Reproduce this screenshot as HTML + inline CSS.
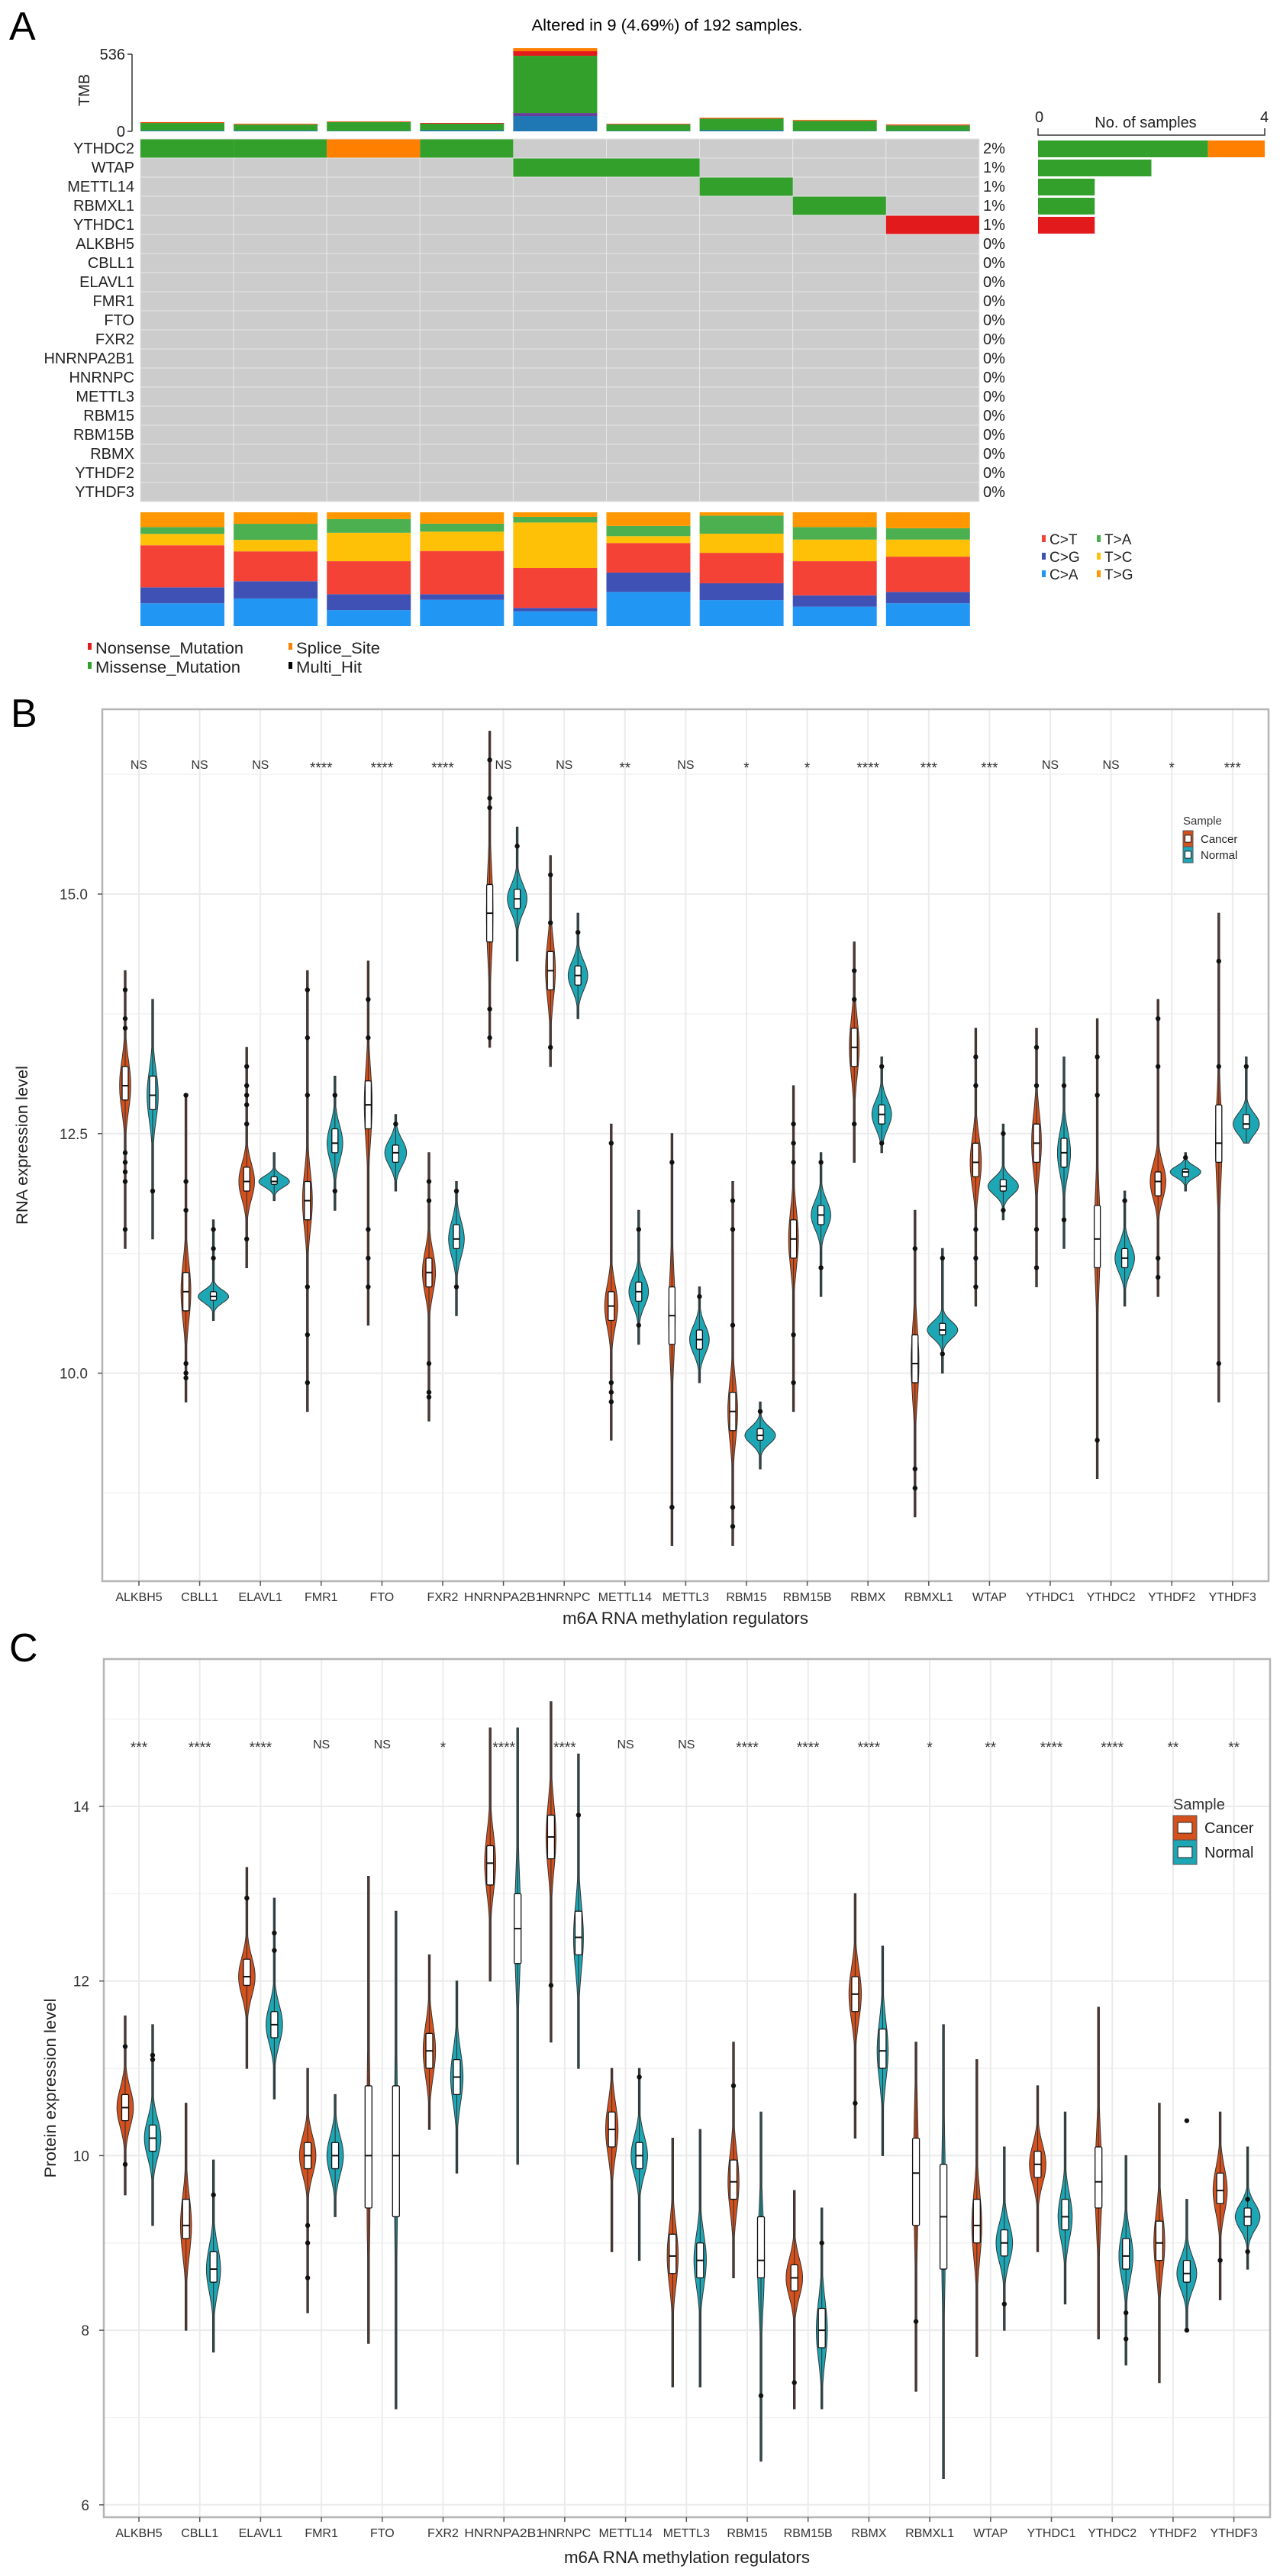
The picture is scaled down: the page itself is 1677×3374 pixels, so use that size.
<!DOCTYPE html>
<html><head><meta charset="utf-8">
<style>
html,body{margin:0;padding:0;background:#fff;}
svg{display:block;font-family:"Liberation Sans",sans-serif;}
</style></head>
<body>
<svg id="fig" xmlns="http://www.w3.org/2000/svg" width="1677" height="3374" viewBox="0 0 1677 3374">
<rect x="0" y="0" width="1677" height="3374" fill="#fff"/>
<text x="12" y="52" font-size="52">A</text>
<text x="14" y="952" font-size="52">B</text>
<text x="12" y="2176" font-size="52">C</text>
<text x="874" y="40" font-size="21" text-anchor="middle" textLength="355" lengthAdjust="spacingAndGlyphs">Altered in 9 (4.69%) of 192 samples.</text>
<g id="panelA"></g>
<g id="panelB"></g>
<g id="panelC"></g>
</svg>
<script>
// ---------- Panel A data ----------
const oncoGenes = ['YTHDC2','WTAP','METTL14','RBMXL1','YTHDC1','ALKBH5','CBLL1','ELAVL1','FMR1','FTO','FXR2','HNRNPA2B1','HNRNPC','METTL3','RBM15','RBM15B','RBMX','YTHDF2','YTHDF3'];
const pctLabels = ['2%','1%','1%','1%','1%','0%','0%','0%','0%','0%','0%','0%','0%','0%','0%','0%','0%','0%','0%'];
const mutRow = [0,0,0,0,1,1,2,3,4];
const mutCol = [0,1,2,3,4,5,6,7,8];
const mutType = ['Missense','Missense','Splice','Missense','Missense','Missense','Missense','Missense','Nonsense'];
const rowMissense = [3,2,1,1,0,0,0,0,0,0,0,0,0,0,0,0,0,0,0];
const rowSplice = [1,0,0,0,0,0,0,0,0,0,0,0,0,0,0,0,0,0,0];
const rowNonsense = [0,0,0,0,1,0,0,0,0,0,0,0,0,0,0,0,0,0,0];
const tmbOther = [5,5,3,8,106,3,8,3,3];
const tmbPurple = [0,0,0,0,21,0,0,0,0];
const tmbMissense = [53,42,61,45,398,45,80,70,38];
const tmbNonsense = [3,3,2,5,32,3,3,3,4];
const tmbSplice = [3,3,3,0,21,2,4,4,3];
const tiCA = [20,24,14,23,13,30,23,17,20];
const tiCG = [14,15,14,5,3,17,15,10,10];
const tiCT = [37,26,29,38,35,26,27,30,31];
const tiTC = [10,10,25,17,40,6,17,19,15];
const tiTA = [6,14,12,7,5,9,16,11,10];
const tiTG = [13,10,6,10,4,12,3,13,14];

// ---------- Panel B/C data ----------
const genes = ['ALKBH5','CBLL1','ELAVL1','FMR1','FTO','FXR2','HNRNPA2B1','HNRNPC','METTL14','METTL3','RBM15','RBM15B','RBMX','RBMXL1','WTAP','YTHDC1','YTHDC2','YTHDF2','YTHDF3'];
const bSig = ['NS','NS','NS','****','****','****','NS','NS','**','NS','*','*','****','***','***','NS','NS','*','***'];
const cSig = ['***','****','****','NS','NS','*','****','****','NS','NS','****','****','****','*','**','****','****','**','**'];
const bTicks = [10,12.5,15];
const bTickLabels = ['10.0','12.5','15.0'];
const cTicks = [6,8,10,12,14];
const cTickLabels = ['6','8','10','12','14'];

const bCanMed = [13.0,10.85,12.0,11.8,12.8,11.05,14.8,14.2,10.7,10.6,9.6,11.4,13.4,10.1,12.2,12.4,11.4,12.0,12.4];
const bCanQ1 = [12.85,10.65,11.9,11.6,12.55,10.9,14.5,14.0,10.55,10.3,9.4,11.2,13.2,9.9,12.05,12.2,11.1,11.85,12.2];
const bCanQ3 = [13.2,11.05,12.15,12.0,13.05,11.2,15.1,14.4,10.85,10.9,9.8,11.6,13.6,10.4,12.4,12.6,11.75,12.1,12.8];
const bCanLo = [11.3,9.7,11.1,9.6,10.5,9.5,13.4,13.2,9.3,8.2,8.2,9.6,12.2,8.5,10.7,10.9,8.9,10.8,9.7];
const bCanHi = [14.2,12.9,13.4,14.2,14.3,12.3,16.7,15.4,12.6,12.5,12.0,13.0,14.5,11.7,13.6,13.6,13.7,13.9,14.8];
const bNorMed = [12.9,10.8,12.0,12.4,12.3,11.4,14.95,14.15,10.85,10.35,9.35,11.65,12.7,10.45,11.95,12.3,11.2,12.1,12.6];
const bNorQ1 = [12.75,10.76,11.97,12.3,12.2,11.3,14.85,14.05,10.75,10.25,9.3,11.55,12.6,10.4,11.9,12.15,11.1,12.05,12.55];
const bNorQ3 = [13.1,10.85,12.05,12.55,12.38,11.55,15.05,14.25,10.95,10.45,9.42,11.75,12.8,10.52,12.02,12.45,11.3,12.13,12.7];
const bNorLo = [11.4,10.55,11.8,11.7,11.9,10.6,14.3,13.7,10.3,9.9,9.0,10.8,12.3,10.0,11.6,11.3,10.7,11.9,12.4];
const bNorHi = [13.9,11.6,12.3,13.1,12.7,12.0,15.7,14.8,11.7,10.9,9.7,12.3,13.3,11.3,12.6,13.3,11.9,12.3,13.3];
const bCanOut = [[14.0,13.7,13.6,12.3,12.2,12.1,12.0,11.5],[12.9,12.0,11.7,10.1,10.0,9.95],[13.2,13.0,12.9,12.8,12.6,11.4],[14.0,13.5,12.9,10.9,10.4,9.9],[13.9,13.5,11.5,11.2,10.9],[12.0,11.8,10.1,9.8,9.75],[16.4,16.0,15.9,13.8,13.5],[15.2,14.7,13.4],[12.4,9.9,9.8,9.7],[12.2,8.6],[11.8,11.5,10.5,8.6,8.4],[12.6,12.4,12.2,10.4,9.9],[14.2,13.9,12.6],[11.3,9.0,8.8],[13.3,13.0,11.5,11.2,10.9],[13.4,13.0,11.5,11.1],[13.3,12.9,9.3],[13.7,13.2,11.2,11.0],[14.3,13.2,10.1]];
const bNorOut = [[11.9],[11.5,11.3,11.2],[],[12.9,11.9],[12.6],[11.9,10.9],[15.5],[14.6],[11.5,10.5],[10.8],[9.6],[12.2,11.1],[13.2,12.4],[11.2,10.2],[12.5,11.7],[13.0,11.6],[11.8],[12.25],[13.2]];

const cCanMed = [10.55,9.2,12.05,10.0,10.0,11.2,13.35,13.65,10.3,8.85,9.7,8.6,11.85,9.8,9.2,9.9,9.7,9.0,9.6];
const cCanQ1 = [10.4,9.05,11.95,9.85,9.4,11.0,13.1,13.4,10.1,8.65,9.5,8.45,11.65,9.2,9.0,9.75,9.4,8.8,9.45];
const cCanQ3 = [10.7,9.5,12.25,10.15,10.8,11.4,13.55,13.9,10.5,9.1,9.95,8.75,12.05,10.2,9.5,10.05,10.1,9.25,9.8];
const cCanLo = [9.55,8.0,11.0,8.2,7.85,10.3,12.0,11.3,8.9,7.35,8.6,7.1,10.2,7.3,7.7,8.9,7.9,7.4,8.35];
const cCanHi = [11.6,10.6,13.3,11.0,13.2,12.3,14.9,15.2,11.0,10.2,11.3,9.6,13.0,11.3,11.1,10.8,11.7,10.6,10.5];
const cNorMed = [10.2,8.7,11.5,10.0,10.0,10.9,12.6,12.5,10.0,8.8,8.8,8.0,11.2,9.3,9.0,9.3,8.85,8.65,9.3];
const cNorQ1 = [10.05,8.55,11.35,9.85,9.3,10.7,12.2,12.3,9.85,8.6,8.6,7.8,11.0,8.7,8.85,9.15,8.7,8.55,9.2];
const cNorQ3 = [10.35,8.9,11.65,10.15,10.8,11.1,13.0,12.8,10.15,9.0,9.3,8.25,11.45,9.9,9.15,9.5,9.05,8.8,9.4];
const cNorLo = [9.2,7.75,10.65,9.3,7.1,9.8,9.9,11.0,8.8,7.35,6.5,7.1,10.0,6.3,8.0,8.3,7.6,8.0,8.7];
const cNorHi = [11.5,9.95,12.95,10.7,12.8,12.0,14.9,14.6,11.0,10.3,10.5,9.4,12.4,11.5,10.1,10.5,10.0,9.5,10.1];
const cCanOut = [[11.25,9.9],[],[12.95],[9.2,9.0,8.6],[],[],[],[11.95],[],[],[10.8],[7.4],[10.6],[8.1],[],[],[],[],[8.8]];
const cNorOut = [[11.15,11.1],[9.55],[12.55,12.35],[],[],[],[],[13.9],[10.9],[],[7.25],[9.0],[],[],[8.3],[],[8.2,7.9],[10.4,8.0],[9.5,8.9]];

// ---------- helpers ----------
const NS = 'http://www.w3.org/2000/svg';
function mk(parent, tag, attrs, txt){
  const e = document.createElementNS(NS, tag);
  for (const k in attrs) e.setAttribute(k, attrs[k]);
  if (txt !== undefined) e.textContent = txt;
  parent.appendChild(e);
  return e;
}

// ---------- Panel A ----------
(function(){
  const g = document.getElementById('panelA');
  const colX0 = 184, pitch = 122.1, barW = 110;
  const rowY0 = 182, rowH = 25;
  const mutColor = {Missense:'#33A02C', Splice:'#FF7F00', Nonsense:'#E31A1C'};
  const tBase = 172, tTop = 71, tMax = 536;
  const ty = v => tBase - v/tMax*(tBase-tTop);
  let e = mk(g,'line',{x1:173,y1:tTop,x2:173,y2:tBase,stroke:'#333','stroke-width':1.5});
  
  
  [0,536].forEach(v=>{
    const t = mk(g,'line',{x1:167,y1:ty(v),x2:173,y2:ty(v),stroke:'#333','stroke-width':1.5});
    
    
    const l = mk(g,'text',{x:164,y:ty(v)+7,'font-size':20,'text-anchor':'end',fill:'#222'},String(v));
    
    
  });
  e = mk(g,'text',{x:0,y:0,'font-size':20,'text-anchor':'middle',transform:'translate(117,118) rotate(-90)',fill:'#222'},'TMB');
  
  
  const tmbLayers = [[tmbOther,'#1F78B4'],[tmbPurple,'#6A3D9A'],[tmbMissense,'#33A02C'],[tmbNonsense,'#E31A1C'],[tmbSplice,'#FF7F00']];
  for (let c=0;c<9;c++){
    let acc = 0;
    tmbLayers.forEach(([arr,col])=>{
      const v = arr[c]; if (!v) return;
      const r = mk(g,'rect',{x:colX0+c*pitch,y:ty(acc+v),width:barW,height:ty(acc)-ty(acc+v),fill:col});
      
      
      acc += v;
    });
  }
  for (let r=0;r<oncoGenes.length;r++){
    for (let c=0;c<9;c++){
      const cell = mk(g,'rect',{x:colX0+c*pitch,y:rowY0+r*rowH,width:pitch,height:rowH,fill:'#CCCCCC',stroke:'#e6e6e6','stroke-width':1});
      
      
    }
    const gl = mk(g,'text',{x:176,y:rowY0+r*rowH+19,'font-size':20,'text-anchor':'end',fill:'#222'},oncoGenes[r]);
    
    
    const pl = mk(g,'text',{x:1288,y:rowY0+r*rowH+19,'font-size':20,fill:'#222'},pctLabels[r]);
    
    
  }
  for (let i=0;i<mutRow.length;i++){
    const m = mk(g,'rect',{x:colX0+mutCol[i]*pitch,y:rowY0+mutRow[i]*rowH+0.5,width:pitch,height:rowH-1,fill:mutColor[mutType[i]]});
    
    
  }
  const rx0 = 1360, rUnit = 74.25;
  e = mk(g,'path',{d:`M${rx0},168 V177 H${rx0+4*rUnit} V168`,fill:'none',stroke:'#333','stroke-width':1.5});
  
  
  e = mk(g,'text',{x:rx0-4,y:160,'font-size':20,fill:'#222'},'0');
  
  
  e = mk(g,'text',{x:rx0+4*rUnit-6,y:160,'font-size':20,fill:'#222'},'4');
  
  
  e = mk(g,'text',{x:1501,y:167,'font-size':20,'text-anchor':'middle',fill:'#222'},'No. of samples');
  
  
  for (let r=0;r<oncoGenes.length;r++){
    let acc = 0;
    [[rowMissense,'#33A02C'],[rowSplice,'#FF7F00'],[rowNonsense,'#E31A1C']].forEach(([arr,col])=>{
      const v = arr[r]; if (!v) return;
      const b = mk(g,'rect',{x:rx0+acc*rUnit,y:rowY0+r*rowH+2,width:v*rUnit,height:rowH-3,fill:col});
      
      
      acc += v;
    });
  }
  const by0 = 671, bh = 149;
  const tiLayers = [[tiCA,'#2196F3'],[tiCG,'#3F51B5'],[tiCT,'#F44336'],[tiTC,'#FFC107'],[tiTA,'#4CAF50'],[tiTG,'#FF9800']];
  for (let c=0;c<9;c++){
    const tot = tiLayers.reduce((s,[a])=>s+a[c],0);
    let acc = 0;
    tiLayers.forEach(([arr,col])=>{
      const h = arr[c]/tot*bh;
      const r = mk(g,'rect',{x:colX0+c*pitch,y:by0+bh-acc-h,width:barW,height:h,fill:col});
      
      
      acc += h;
    });
  }
  const tl = [['C>T','#F44336',1367,706],['C>G','#3F51B5',1367,729],['C>A','#2196F3',1367,752],['T>A','#4CAF50',1439,706],['T>C','#FFC107',1439,729],['T>G','#FF9800',1439,752]];
  tl.forEach(([lab,col,x,y])=>{
    const d = mk(g,'rect',{x:x-2,y:y-5,width:5,height:9,fill:col});
    
    
    const t = mk(g,'text',{x:x+8,y:y+7,'font-size':19,fill:'#222'},lab);
    
    
  });
  const vl = [['Nonsense_Mutation','#E31A1C',115,848,194],['Missense_Mutation','#33A02C',115,873,190],['Splice_Site','#FF7F00',378,848,110],['Multi_Hit','#000',378,873,86]];
  vl.forEach(([lab,col,x,y,w])=>{
    const d = mk(g,'rect',{x:x,y:y-6,width:5,height:9,fill:col});
    
    
    const t = mk(g,'text',{x:x+10,y:y+8,'font-size':21,fill:'#222',textLength:w,lengthAdjust:'spacingAndGlyphs'},lab);
    
    
  });
})();

// ---------- Violin panels ----------
function violinPanel(cfg){
  const g = document.getElementById(cfg.id);
  const {left,right,top,bottom,y,cat0,catP,off,A,cap,boxW} = cfg;
  const cx = i => cat0 + i*catP;
  cfg.minor.forEach(v=>{
    const l = mk(g,'line',{x1:left,x2:right,y1:y(v),y2:y(v),stroke:'#f2f2f2','stroke-width':1.5});
    
    
  });
  cfg.ticks.forEach(v=>{
    const l = mk(g,'line',{x1:left,x2:right,y1:y(v),y2:y(v),stroke:'#ebebeb','stroke-width':2});
    
    
  });
  genes.forEach((gn,i)=>{
    const l = mk(g,'line',{x1:cx(i),x2:cx(i),y1:top,y2:bottom,stroke:'#ebebeb','stroke-width':2});
    
    
  });
  const fr = mk(g,'rect',{x:left,y:top,width:right-left,height:bottom-top,fill:'none',stroke:'#b5b5b5','stroke-width':2.5});
  
  
  cfg.ticks.forEach((v,k)=>{
    const t = mk(g,'line',{x1:left-6,x2:left,y1:y(v),y2:y(v),stroke:'#555','stroke-width':1.5});
    
    
    const l = mk(g,'text',{x:left-19,y:y(v)+7,'font-size':19,'text-anchor':'end',fill:'#333'},cfg.tickLabels[k]);
    
    
  });
  genes.forEach((gn,i)=>{
    const t = mk(g,'line',{x1:cx(i),x2:cx(i),y1:bottom,y2:bottom+6,stroke:'#555','stroke-width':1.5});
    
    
    const attrs = {x:cx(i),y:bottom+26,'font-size':16,'text-anchor':'middle',fill:'#333'};
    if (gn.length > 8) { attrs.textLength = gn.length*11.5; attrs.lengthAdjust = 'spacingAndGlyphs'; }
    const l = mk(g,'text',attrs,gn);
    
    
    const s = cfg.sig[i];
    const st = mk(g,'text',{x:cx(i),y:cfg.sigY+(s==='NS'?7:12),'font-size':s==='NS'?16:19,'text-anchor':'middle',fill:'#333'},s);
    
    
  });
  let e = mk(g,'text',{x:(left+right)/2,y:cfg.xTitleY,'font-size':22,'text-anchor':'middle',fill:'#222',textLength:322,lengthAdjust:'spacingAndGlyphs'},'m6A RNA methylation regulators');
  
  
  e = mk(g,'text',{x:0,y:0,'font-size':21,'text-anchor':'middle',fill:'#222',transform:`translate(${cfg.yTitleX},${(top+bottom)/2}) rotate(-90)`,textLength:cfg.yTitleW,lengthAdjust:'spacingAndGlyphs'},cfg.yTitle);
  
  
  const groups = [
    {med:cfg.cMed,q1:cfg.cQ1,q3:cfg.cQ3,lo:cfg.cLo,hi:cfg.cHi,out:cfg.cOut,dx:-off,fill:'#D4501C',name:'cancer'},
    {med:cfg.nMed,q1:cfg.nQ1,q3:cfg.nQ3,lo:cfg.nLo,hi:cfg.nHi,out:cfg.nOut,dx:off,fill:'#1DA7B5',name:'normal'}];
  genes.forEach((gn,i)=>{
    groups.forEach(gr=>{
      const x = cx(i)+gr.dx;
      const med=gr.med[i], q1=gr.q1[i], q3=gr.q3[i], lo=gr.lo[i], hi=gr.hi[i];
      const sig = Math.max(0.03,(q3-q1)/1.35);
      const hw = Math.min(cap, A/sig);
      const N = 70;
      const L=[], R=[];
      for (let k=0;k<=N;k++){
        const v = lo + (hi-lo)*k/N;
        const w = Math.max(1.2, hw*Math.exp(-0.5*Math.pow((v-med)/sig,2)));
        L.push(`${(x-w).toFixed(1)},${y(v).toFixed(1)}`);
        R.unshift(`${(x+w).toFixed(1)},${y(v).toFixed(1)}`);
      }
      const vp = mk(g,'path',{d:'M'+L.join(' L')+' L'+R.join(' L')+' Z',fill:gr.fill,stroke:'#333','stroke-width':1});
      
      
      const wl = mk(g,'line',{x1:x,x2:x,y1:y(hi),y2:y(lo),stroke:'#333','stroke-width':1.1});
      
      
      const bx = mk(g,'rect',{x:x-boxW/2,y:y(q3),width:boxW,height:y(q1)-y(q3),fill:'#fff',stroke:'#111','stroke-width':1.3,rx:1.5});
      
      
      const ml = mk(g,'line',{x1:x-boxW/2,x2:x+boxW/2,y1:y(med),y2:y(med),stroke:'#111','stroke-width':2});
      
      
      gr.out[i].forEach(v=>{
        const p = mk(g,'circle',{cx:x,cy:y(v),r:3.2,fill:'#111'});
        
        
      });
    });
  });
  const L = cfg.legend;
  e = mk(g,'text',{x:L.x,y:L.y,'font-size':L.fs,fill:'#333'},'Sample');
  
  
  [['Cancer','#D4501C'],['Normal','#1DA7B5']].forEach(([lab,col],k)=>{
    const ky = L.y + 8 + k*L.kh;
    const kr = mk(g,'rect',{x:L.x,y:ky,width:L.kw,height:L.kh,fill:col,stroke:'#555','stroke-width':1});
    
    
    const kb = mk(g,'rect',{x:L.x+L.kw*0.2,y:ky+L.kh*0.28,width:L.kw*0.6,height:L.kh*0.44,fill:'#fff',stroke:'#222','stroke-width':1});
    
    
    const kt = mk(g,'text',{x:L.x+L.kw+10,y:ky+L.kh*0.5+L.fs*0.36,'font-size':L.fs,fill:'#222'},lab);
    
    
  });
}

violinPanel({id:'panelB',left:134,right:1662,top:929,bottom:2071,
  y:v=>1171-(v-15)*125.5, cat0:182, catP:79.6, off:18, A:1.9, cap:20, boxW:8,
  ticks:bTicks, tickLabels:bTickLabels, minor:[8.75,11.25,13.75,16.25],
  sig:bSig, sigY:1000, xTitleY:2127, yTitleX:36, yTitleW:208, yTitle:'RNA expression level',
  cMed:bCanMed,cQ1:bCanQ1,cQ3:bCanQ3,cLo:bCanLo,cHi:bCanHi,cOut:bCanOut,
  nMed:bNorMed,nQ1:bNorQ1,nQ3:bNorQ3,nLo:bNorLo,nHi:bNorHi,nOut:bNorOut,
  legend:{x:1550,y:1080,fs:15,kw:13,kh:21}});

violinPanel({id:'panelC',left:136,right:1664,top:2173,bottom:3297,
  y:v=>2366-(v-14)*114.35, cat0:182, catP:79.7, off:18, A:2.4, cap:17, boxW:9,
  ticks:cTicks, tickLabels:cTickLabels, minor:[7,9,11,13,15],
  sig:cSig, sigY:2283, xTitleY:3357, yTitleX:73, yTitleW:235, yTitle:'Protein expression level',
  cMed:cCanMed,cQ1:cCanQ1,cQ3:cCanQ3,cLo:cCanLo,cHi:cCanHi,cOut:cCanOut,
  nMed:cNorMed,nQ1:cNorQ1,nQ3:cNorQ3,nLo:cNorLo,nHi:cNorHi,nOut:cNorOut,
  legend:{x:1537,y:2370,fs:20,kw:31,kh:32}});
</script>
</body></html>
